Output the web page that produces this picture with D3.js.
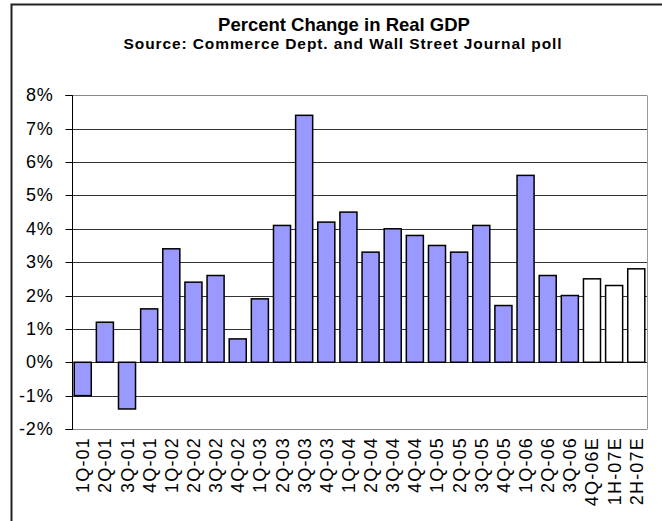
<!DOCTYPE html>
<html>
<head>
<meta charset="utf-8">
<script src="https://cdn.jsdelivr.net/npm/d3@7/dist/d3.min.js"></script>
<style>
  html, body { margin: 0; padding: 0; background: #fff; }
  svg { display: block; }
  text { font-family: "Liberation Sans", Arial, sans-serif; fill: #000; }
</style>
</head>
<body>
<svg id="chart" width="662" height="521"></svg>
<script>
// Quarterly real GDP growth, annualized percent; last three are forecasts
const categories = ["1Q-01","2Q-01","3Q-01","4Q-01","1Q-02","2Q-02","3Q-02","4Q-02",
  "1Q-03","2Q-03","3Q-03","4Q-03","1Q-04","2Q-04","3Q-04","4Q-04",
  "1Q-05","2Q-05","3Q-05","4Q-05","1Q-06","2Q-06","3Q-06","4Q-06E","1H-07E","2H-07E"];
const gdpChange = [-1.0, 1.2, -1.4, 1.6, 3.4, 2.4, 2.6, 0.7,
  1.9, 4.1, 7.4, 4.2, 4.5, 3.3, 4.0, 3.8,
  3.5, 3.3, 4.1, 1.7, 5.6, 2.6, 2.0, 2.5, 2.3, 2.8];
const isEstimate = [false,false,false,false,false,false,false,false,
  false,false,false,false,false,false,false,false,
  false,false,false,false,false,false,false,true,true,true];
const yTicks = [-2, -1, 0, 1, 2, 3, 4, 5, 6, 7, 8];
const titleText = "Percent Change in Real GDP";
const subtitleText = "Source: Commerce Dept. and Wall Street Journal poll";

const svg = d3.select("#chart");

// outer chart frame (left and top edges)
svg.append("path")
  .attr("d", "M11.5,521 L11.5,4.5 L662,4.5")
  .attr("fill", "none")
  .attr("stroke", "#222")
  .attr("stroke-width", 2);

const plot = { left: 72, right: 647, top: 95.3, bottom: 429 };

const x = d3.scaleBand()
  .domain(categories)
  .range([plot.left, plot.right])
  .paddingInner(0.23)
  .paddingOuter(0.1);

const y = d3.scaleLinear()
  .domain([-2, 8])
  .range([plot.bottom, plot.top]);

// titles
svg.append("text")
  .attr("x", 344).attr("y", 30.5)
  .attr("text-anchor", "middle")
  .attr("font-size", 18.5).attr("font-weight", "bold")
  .text(titleText);
svg.append("text")
  .attr("x", 343).attr("y", 49)
  .attr("text-anchor", "middle")
  .attr("font-size", 15.5).attr("font-weight", "bold")
  .attr("letter-spacing", 0.9)
  .text(subtitleText);

// horizontal gridlines
svg.append("g")
  .selectAll("line")
  .data(yTicks)
  .join("line")
  .attr("x1", plot.left).attr("x2", plot.right)
  .attr("y1", d => Math.round(y(d)) + 0.5)
  .attr("y2", d => Math.round(y(d)) + 0.5)
  .attr("stroke", d => (d === 8 || d === -2) ? "#888" : "#333")
  .attr("stroke-width", 1);

// right border of plot area
svg.append("line")
  .attr("x1", plot.right + 0.5).attr("x2", plot.right + 0.5)
  .attr("y1", Math.round(plot.top) + 0.5).attr("y2", Math.round(plot.bottom) + 0.5)
  .attr("stroke", "#999");

// bars
svg.append("g")
  .selectAll("rect")
  .data(gdpChange)
  .join("rect")
  .attr("x", (d, i) => x(categories[i]))
  .attr("width", x.bandwidth())
  .attr("y", d => y(Math.max(0, d)))
  .attr("height", d => Math.abs(y(d) - y(0)))
  .attr("fill", (d, i) => isEstimate[i] ? "#ffffff" : "#9999ff")
  .attr("stroke", "#000")
  .attr("stroke-width", 1.5);

// y axis
const yAxis = d3.axisLeft(y)
  .tickValues(yTicks)
  .tickSize(7)
  .tickPadding(12)
  .tickFormat(d => d + "%");
const gy = svg.append("g")
  .attr("transform", `translate(${plot.left + 0.5},0)`)
  .call(yAxis);
gy.select(".domain").attr("stroke", "#000").attr("d", `M-7,${Math.round(plot.top)+0.5}H0V${Math.round(plot.bottom)+0.5}H-7`);
gy.selectAll(".tick line").attr("stroke", "#000");
gy.selectAll(".tick text")
  .attr("font-family", "'Liberation Sans', Arial, sans-serif")
  .attr("font-size", 18)
  .attr("letter-spacing", 0.8)
  .attr("fill", "#000");
gy.selectAll(".tick").attr("transform", d => `translate(0,${Math.round(y(d)) + 0.5})`);

// x axis category labels, rotated
const xAxis = d3.axisBottom(x).tickSize(0).tickPadding(0);
const gx = svg.append("g")
  .attr("transform", `translate(0,${plot.bottom})`)
  .call(xAxis);
gx.select(".domain").remove();
gx.selectAll(".tick text")
  .attr("font-family", "'Liberation Sans', Arial, sans-serif")
  .attr("font-size", 18)
  .attr("letter-spacing", 1.2)
  .attr("fill", "#000")
  .attr("text-anchor", "end")
  .attr("dy", null)
  .attr("transform", "translate(6.5,8) rotate(-90)")
  .attr("y", 0)
  .attr("x", 0);
</script>
</body>
</html>
